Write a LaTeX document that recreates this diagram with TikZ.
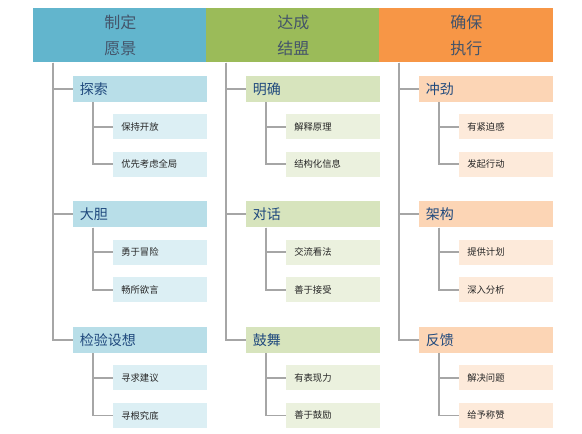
\documentclass[tikz,border=0pt]{standalone}
\usepackage{fontspec}
\setmainfont{Noto Sans CJK SC}
\usetikzlibrary{positioning}
\definecolor{vision}{HTML}{62B5CD}
\definecolor{allies}{HTML}{9BBB59}
\definecolor{execute}{HTML}{F79646}
\definecolor{headtext}{HTML}{44546A}
\definecolor{itemtext}{HTML}{1F497D}
\definecolor{linkgray}{HTML}{A6A6A6}

\begin{document}
\begin{tikzpicture}[x=0.75pt, y=-0.75pt,
  head/.style={anchor=north west, minimum width=130.5pt, minimum height=40.5pt, inner sep=0pt,
    align=center, text=headtext, font=\fontsize{12}{20}\selectfont},
  topic/.style={minimum width=100.5pt, minimum height=19.5pt, inner sep=0pt, inner xsep=5pt,
    text=itemtext, font=\fontsize{10.5}{12}\selectfont, text width=90.5pt, align=left},
  leaf/.style={minimum width=70.5pt, minimum height=18.75pt, inner sep=0pt, inner xsep=6pt,
    text=black!85, font=\fontsize{7}{8}\selectfont, text width=58.5pt, align=left},
  link/.style={draw=linkgray, line width=1.4pt}]
  \useasboundingbox (0,0) rectangle (582,433);

  % column headers
  \node[head, fill=vision] (hA) at (33,8) {制定\\愿景};
  \node[head, fill=allies] (hB) at (206,8) {达成\\结盟};
  \node[head, fill=execute] (hC) at (379,8) {确保\\执行};

  % column A
  \node[topic, fill=vision!45, below right=9.75pt and 30pt of hA.south west] (a1) {探索};
  \node[leaf, fill=vision!22, below right=9pt and 30pt of a1.south west] (a11) {保持开放};
  \node[leaf, fill=vision!22, below=9pt of a11] (a12) {优先考虑全局};
  \node[topic, fill=vision!45, below=74.25pt of a1] (a2) {大胆};
  \node[leaf, fill=vision!22, below right=9pt and 30pt of a2.south west] (a21) {勇于冒险};
  \node[leaf, fill=vision!22, below=9pt of a21] (a22) {畅所欲言};
  \node[topic, fill=vision!45, below=74.25pt of a2] (a3) {检验设想};
  \node[leaf, fill=vision!22, below right=9pt and 30pt of a3.south west] (a31) {寻求建议};
  \node[leaf, fill=vision!22, below=9pt of a31] (a32) {寻根究底};

  % column B
  \node[topic, fill=allies!40, below right=9.75pt and 30pt of hB.south west] (b1) {明确};
  \node[leaf, fill=allies!20, below right=9pt and 30pt of b1.south west] (b11) {解释原理};
  \node[leaf, fill=allies!20, below=9pt of b11] (b12) {结构化信息};
  \node[topic, fill=allies!40, below=74.25pt of b1] (b2) {对话};
  \node[leaf, fill=allies!20, below right=9pt and 30pt of b2.south west] (b21) {交流看法};
  \node[leaf, fill=allies!20, below=9pt of b21] (b22) {善于接受};
  \node[topic, fill=allies!40, below=74.25pt of b2] (b3) {鼓舞};
  \node[leaf, fill=allies!20, below right=9pt and 30pt of b3.south west] (b31) {有表现力};
  \node[leaf, fill=allies!20, below=9pt of b31] (b32) {善于鼓励};

  % column C
  \node[topic, fill=execute!40, below right=9.75pt and 30pt of hC.south west] (c1) {冲劲};
  \node[leaf, fill=execute!20, below right=9pt and 30pt of c1.south west] (c11) {有紧迫感};
  \node[leaf, fill=execute!20, below=9pt of c11] (c12) {发起行动};
  \node[topic, fill=execute!40, below=74.25pt of c1] (c2) {架构};
  \node[leaf, fill=execute!20, below right=9pt and 30pt of c2.south west] (c21) {提供计划};
  \node[leaf, fill=execute!20, below=9pt of c21] (c22) {深入分析};
  \node[topic, fill=execute!40, below=74.25pt of c2] (c3) {反馈};
  \node[leaf, fill=execute!20, below right=9pt and 30pt of c3.south west] (c31) {解决问题};
  \node[leaf, fill=execute!20, below=9pt of c31] (c32) {给予称赞};

  % tree lines
  \foreach \h/\c in {hA/a, hB/b, hC/c} {
    \foreach \t in {1,2,3} {
      \draw[link] (\h.south west) ++(20,0) |- (\c\t.west);
      \draw[link] (\c\t.south west) ++(20,0) |- (\c\t1.west);
      \draw[link] (\c\t.south west) ++(20,0) |- (\c\t2.west);
    }
  }
\end{tikzpicture}
\end{document}
